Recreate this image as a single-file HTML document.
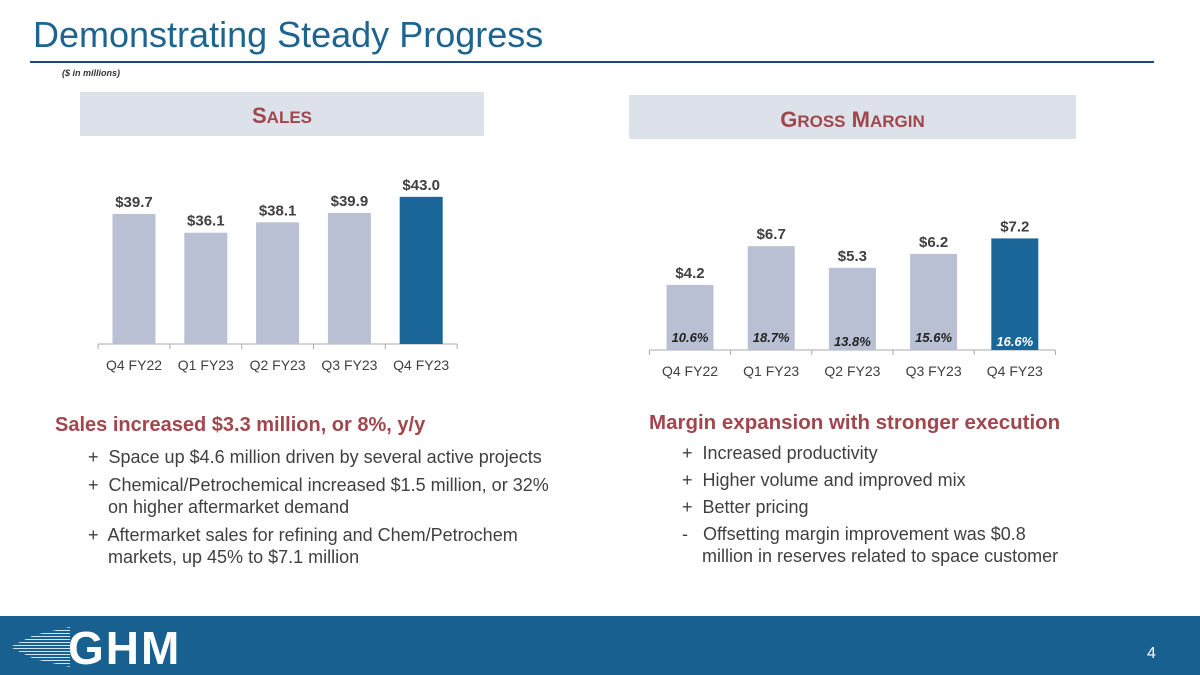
<!DOCTYPE html>
<html><head><meta charset="utf-8"><style>
body{margin:0;width:1200px;height:675px;position:relative;overflow:hidden;background:#fff;font-family:"Liberation Sans",sans-serif}
.a{position:absolute}
.title{left:33px;top:14px;font-size:36px;color:#1d6491}
.hdr{background:#dde1ea;color:#a0464c;font-weight:bold;text-align:center;font-size:22px}
.h2{color:#a0464c;font-weight:bold;font-size:20px}
.bl{color:#404040;font-size:18px;line-height:22px}
</style></head><body>
<div class="a title">Demonstrating Steady Progress</div>
<div class="a" style="left:30px;top:61px;width:1124px;height:2px;background:#1d4a7a"></div>
<div class="a" style="left:62px;top:68px;font-size:9px;font-style:italic;font-weight:bold;color:#333">($ in millions)</div>
<div class="a hdr" style="left:80px;top:92px;width:404px;height:44px;line-height:48px">S<span style="font-size:17px">ALES</span></div>
<div class="a hdr" style="left:629px;top:95px;width:447px;height:44px;line-height:50px">G<span style="font-size:17px">ROSS</span> M<span style="font-size:17px">ARGIN</span></div>
<svg class="a" style="left:0;top:0" width="1200" height="600" id="ch"></svg>
<div class="a h2" style="left:55px;top:414px">Sales increased $3.3 million, or 8%, y/y</div>
<div class="a bl" style="left:88px;top:446px;width:480px">
<div style="margin-bottom:6px">+&nbsp; Space up $4.6 million driven by several active projects</div>
<div style="margin-bottom:6px;padding-left:20px;text-indent:-20px">+&nbsp; Chemical/Petrochemical increased $1.5 million, or 32% on higher aftermarket demand</div>
<div style="padding-left:20px;text-indent:-20px">+&nbsp; Aftermarket sales for refining and Chem/Petrochem markets, up 45% to $7.1 million</div></div>
<div class="a h2" style="left:649px;top:411px;font-size:20.5px">Margin expansion with stronger execution</div>
<div class="a bl" style="left:682px;top:442px;width:385px">
<div style="margin-bottom:5px">+&nbsp; Increased productivity</div>
<div style="margin-bottom:5px">+&nbsp; Higher volume and improved mix</div>
<div style="margin-bottom:5px">+&nbsp; Better pricing</div>
<div style="padding-left:20px;text-indent:-20px">-&nbsp;&nbsp; Offsetting margin improvement was $0.8 million in reserves related to space customer</div></div>
<div class="a" style="left:0;top:616px;width:1200px;height:59px;background:#18608f"></div>
<div class="a" style="left:10px;top:627px;width:60px;height:40px;background:repeating-linear-gradient(to bottom,#cfe3f2 0 1px,transparent 1px 3px);clip-path:polygon(100% 0,100% 100%,40% 80%,0 50%,40% 20%)"></div>
<div class="a" style="left:68px;top:621px;font-size:46px;font-weight:bold;color:#fff;letter-spacing:2px">GHM</div>
<div class="a" style="left:1147px;top:645px;font-size:16px;color:#fff">4</div>
<script>
const cats=["Q4 FY22","Q1 FY23","Q2 FY23","Q3 FY23","Q4 FY23"];
const sales=[39.7,36.1,38.1,39.9,43.0];
const margin=[4.2,6.7,5.3,6.2,7.2];
const marginPct=["10.6%","18.7%","13.8%","15.6%","16.6%"];
const NS="http://www.w3.org/2000/svg",svg=document.getElementById('ch');
function mk(t,a,txt){const e=document.createElementNS(NS,t);for(const k in a)e.setAttribute(k,a[k]);if(txt!=null)e.textContent=txt;svg.appendChild(e);return e;}
function chart(name,vals,x0,step,bw,base,min,scale,labY,pct){
 const ys=v=>base-(v-min)*scale;
 const l=mk('line',{x1:x0-step/2,x2:x0+step*4.5,y1:base,y2:base,stroke:'#aaa'});
 
 for(let i=0;i<=5;i++){const t=mk('line',{x1:x0-step/2+i*step,x2:x0-step/2+i*step,y1:base,y2:base+5,stroke:'#aaa'});}
 vals.forEach((v,i)=>{const cx=x0+i*step,y=ys(v);
  const r=mk('rect',{x:cx-bw/2,y:y,width:bw,height:base-y,fill:i==4?'#1a6698':'#b9c0d3'});
  
  const t=mk('text',{x:cx,y:y-7,'text-anchor':'middle','font-size':15,'font-weight':'bold',fill:'#404040'},'$'+v.toFixed(1));
  
  const c=mk('text',{x:cx,y:labY,'text-anchor':'middle','font-size':14,fill:'#404040'},cats[i]);
  
  if(pct){const p=mk('text',{x:cx,y:base-6-(i%2==0&&i>0?-2:2),'text-anchor':'middle','font-size':13,'font-weight':'bold','font-style':'italic',fill:i==4?'#fff':'#222'},pct[i]);
   }
 });
}
chart('sales',sales,134,71.8,43,344,14.7,5.2,370,null);
chart('margin',margin,690,81.2,47,350,0,15.5,376,marginPct);
</script>
</body></html>
